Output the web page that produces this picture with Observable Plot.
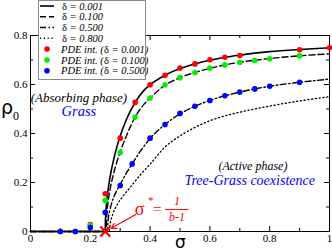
<!DOCTYPE html>
<html><head><meta charset="utf-8">
<script src="https://cdn.jsdelivr.net/npm/d3@7"></script>
<script src="https://cdn.jsdelivr.net/npm/@observablehq/plot@0.6"></script>
<style>
body{margin:0;background:#fff}
#chart{position:relative;width:332px;height:252px}
</style></head><body><div id="chart"></div>
<script>
// ---- tick values and labels ----
const xTicks = [0, 0.2, 0.4, 0.6, 0.8, 1];
const xTickLabels = ["0", "0.2", "0.4", "0.6", "0.8", "1"];
const xMinor = [0.1, 0.3, 0.5, 0.7, 0.9];
const yTicks = [0, 0.2, 0.4, 0.6, 0.8];
const yTickLabels = ["0", "0.2", "0.4", "0.6", "0.8"];
const yMinor = [0.1, 0.3, 0.5, 0.7];

// ---- mean-field curves ----
const sigD001 = [0, 0.25, 0.2505, 0.252, 0.255, 0.26, 0.265, 0.27, 0.28, 0.29, 0.30, 0.32, 0.35, 0.38, 0.40, 0.45, 0.50, 0.55, 0.60, 0.65, 0.70, 0.80, 0.90, 1.0];
const rhoD001 = [0, 0, 0.04, 0.078, 0.124, 0.175, 0.214, 0.248, 0.303, 0.35, 0.39, 0.455, 0.527, 0.577, 0.599, 0.638, 0.665, 0.684, 0.699, 0.711, 0.72, 0.734, 0.743, 0.75];
const sigD010 = [0, 0.253, 0.255, 0.258, 0.262, 0.268, 0.275, 0.283, 0.29, 0.30, 0.32, 0.35, 0.38, 0.40, 0.45, 0.50, 0.55, 0.60, 0.65, 0.70, 0.75, 0.80, 0.90, 1.0];
const rhoD010 = [0, 0, 0.067, 0.106, 0.142, 0.184, 0.222, 0.26, 0.289, 0.325, 0.388, 0.467, 0.52, 0.545, 0.597, 0.628, 0.649, 0.666, 0.68, 0.691, 0.699, 0.706, 0.717, 0.725];
const sigD050 = [0, 0.257, 0.26, 0.265, 0.27, 0.28, 0.29, 0.30, 0.32, 0.34, 0.37, 0.40, 0.45, 0.50, 0.55, 0.60, 0.65, 0.70, 0.75, 0.80, 0.90, 1.0];
const rhoD050 = [0, 0, 0.05, 0.085, 0.11, 0.145, 0.17, 0.192, 0.237, 0.276, 0.332, 0.38, 0.437, 0.48, 0.511, 0.535, 0.554, 0.569, 0.582, 0.593, 0.609, 0.622];
const sigD080 = [0, 0.263, 0.267, 0.275, 0.29, 0.31, 0.34, 0.37, 0.40, 0.45, 0.50, 0.55, 0.60, 0.65, 0.70, 0.80, 0.90, 1.0];
const rhoD080 = [0, 0, 0.035, 0.07, 0.11, 0.145, 0.19, 0.235, 0.275, 0.345, 0.39, 0.425, 0.452, 0.472, 0.487, 0.512, 0.533, 0.55];

// ---- PDE integration points ----
const sigPdeRed = [0.1, 0.15, 0.2, 0.25, 0.3, 0.35, 0.4, 0.45, 0.5, 0.55, 0.6, 0.65, 0.7, 0.9, 1.0];
const rhoPdeRed = [0, 0, 0.028, 0.154, 0.381, 0.527, 0.599, 0.638, 0.667, 0.684, 0.701, 0.711, 0.718, 0.742, 0.75];
const sigPdeGreen = [0.1, 0.15, 0.2, 0.25, 0.3, 0.35, 0.4, 0.45, 0.5, 0.55, 0.6, 0.65, 0.7, 0.75, 0.8, 0.9];
const rhoPdeGreen = [0, 0, 0.025, 0.127, 0.322, 0.467, 0.545, 0.599, 0.628, 0.649, 0.667, 0.68, 0.691, 0.698, 0.705, 0.717];
const sigPdeBlue = [0.1, 0.15, 0.2, 0.25, 0.3, 0.34, 0.4, 0.45, 0.5, 0.55, 0.6, 0.65, 0.7, 0.75, 0.8, 0.9];
const rhoPdeBlue = [0, 0, 0.016, 0.078, 0.188, 0.276, 0.381, 0.437, 0.482, 0.511, 0.535, 0.554, 0.569, 0.582, 0.593, 0.609];

// ---- annotations ----
const sigmaStar = 0.25;
const phaseLabels = [
  {x: 0.162, y: 0.547, t: "(Absorbing phase)", c: "black", s: 13},
  {x: 0.162, y: 0.49, t: "Grass", c: "#0000ff", s: 14.5},
  {x: 0.744, y: 0.265, t: "(Active phase)", c: "black", s: 12},
  {x: 0.733, y: 0.207, t: "Tree-Grass coexistence", c: "#0000ff", s: 14}
];
const arrowData = [{x1: 0.352, y1: 0.069, x2: 0.27, y2: 0.013}];

const legendLines = [
  {label: "0.001", dash: null},
  {label: "0.100", dash: "6,3"},
  {label: "0.500", dash: "6,2.5,1.5,2.5"},
  {label: "0.800", dash: "1.2,2.6"}
];
const legendDots = [
  {label: "0.001", color: "#ff0000"},
  {label: "0.100", color: "#00ee00"},
  {label: "0.500", color: "#0000ff"}
];

const pts = (s, r) => s.map((v, i) => ({x: v, y: r[i]}));
const W = 332, H = 252, mT = 35, mB = 21, mL = 30, mR = 3;
const innerH = H - mT - mB, innerW = W - mL - mR;
const serif = "Liberation Serif";

const plot = Plot.plot({
  width: W, height: H,
  marginTop: mT, marginBottom: mB, marginLeft: mL, marginRight: mR,
  style: {fontFamily: serif, fontSize: "11px", background: "white"},
  x: {domain: [0, 1], label: null},
  y: {domain: [0, 0.8], label: null},
  marks: [
    Plot.axisX(xTicks, {tickSize: 0, tickPadding: 3, tickFormat: d => xTickLabels[xTicks.indexOf(d)], fontSize: 11, label: null}),
    Plot.axisY(yTicks, {tickSize: 0, tickPadding: 3, tickFormat: d => yTickLabels[yTicks.indexOf(d)], fontSize: 11, label: null}),
    // inward ticks on all sides
    Plot.tickX(xTicks, {x: d => d, insetTop: innerH - 5, stroke: "black"}),
    Plot.tickX(xTicks, {x: d => d, insetBottom: innerH - 5, stroke: "black"}),
    Plot.tickX(xMinor, {x: d => d, insetTop: innerH - 3, stroke: "black"}),
    Plot.tickX(xMinor, {x: d => d, insetBottom: innerH - 3, stroke: "black"}),
    Plot.tickY(yTicks, {y: d => d, insetRight: innerW - 5, stroke: "black"}),
    Plot.tickY(yTicks, {y: d => d, insetLeft: innerW - 5, stroke: "black"}),
    Plot.tickY(yMinor, {y: d => d, insetRight: innerW - 3, stroke: "black"}),
    Plot.tickY(yMinor, {y: d => d, insetLeft: innerW - 3, stroke: "black"}),
    // curves
    Plot.line(pts(sigD080, rhoD080), {x: "x", y: "y", stroke: "black", strokeWidth: 1.3, strokeDasharray: "1.2,2.6", curve: "monotone-x"}),
    Plot.line(pts(sigD050, rhoD050), {x: "x", y: "y", stroke: "black", strokeWidth: 1.4, strokeDasharray: "6,2.5,1.5,2.5", curve: "monotone-x"}),
    Plot.line(pts(sigD010, rhoD010), {x: "x", y: "y", stroke: "black", strokeWidth: 1.4, strokeDasharray: "6,3", curve: "monotone-x"}),
    Plot.line(pts(sigD001, rhoD001), {x: "x", y: "y", stroke: "black", strokeWidth: 1.6, curve: "monotone-x"}),
    Plot.frame({stroke: "black", strokeWidth: 1}),
    // PDE dots
    Plot.dot(pts(sigPdeRed, rhoPdeRed), {x: "x", y: "y", r: 2.8, fill: "#ff0000"}),
    Plot.dot(pts(sigPdeGreen, rhoPdeGreen), {x: "x", y: "y", r: 2.8, fill: "#00ee00"}),
    Plot.dot(pts(sigPdeBlue, rhoPdeBlue), {x: "x", y: "y", r: 2.8, fill: "#0000ff"}),
    // phase annotations
    Plot.text(phaseLabels, {x: "x", y: "y", text: "t", fill: "c", fontSize: "s", fontStyle: "italic", fontFamily: serif}),
    // sigma* annotation
    Plot.arrow(arrowData, {x1: "x1", y1: "y1", x2: "x2", y2: "y2", stroke: "#ff0000", strokeWidth: 1.2, headLength: 7}),
    Plot.dot([{x: sigmaStar, y: 0}], {x: "x", y: "y", symbol: "times", r: 4.6, stroke: "#ff0000", strokeWidth: 2.2}),
    Plot.text([{x: 0.349, y: 0.092, t: "σ"}], {x: "x", y: "y", text: "t", textAnchor: "start", fill: "#ff0000", fontSize: 18, fontFamily: serif}),
    Plot.text([{x: 0.393, y: 0.128, t: "*"}], {x: "x", y: "y", text: "t", textAnchor: "start", fill: "#ff0000", fontSize: 11, fontFamily: serif}),
    Plot.text([{x: 0.41, y: 0.09, t: "="}], {x: "x", y: "y", text: "t", textAnchor: "start", fill: "#ff0000", fontSize: 15, fontFamily: serif}),
    Plot.text([{x: 0.49, y: 0.122, t: "1"}], {x: "x", y: "y", text: "t", fill: "#ff0000", fontSize: 12, fontStyle: "italic", fontFamily: serif}),
    Plot.ruleY([0.09], {x1: 0.452, x2: 0.53, stroke: "#ff0000", strokeWidth: 1}),
    Plot.text([{x: 0.49, y: 0.057, t: "b-1"}], {x: "x", y: "y", text: "t", fill: "#ff0000", fontSize: 12, fontStyle: "italic", fontFamily: serif})
  ]
});

const svg = d3.select(plot);
// axis labels
const yl = svg.append("text").attr("x", 1).attr("y", 114).attr("text-anchor", "start").attr("font-family", "DejaVu Sans").attr("fill", "black");
yl.append("tspan").attr("font-size", 19).text("ρ");
yl.append("tspan").attr("font-size", 12).attr("font-family", serif).attr("dy", 6).text("0");
svg.append("text").attr("x", 175).attr("y", 248).attr("text-anchor", "start").attr("font-family", "DejaVu Sans").attr("font-size", 17).attr("fill", "black").text("σ");

// legend
const lg = svg.append("g").attr("text-anchor", "start");
lg.append("rect").attr("x", 38.5).attr("y", 0.5).attr("width", 107).attr("height", 79).attr("fill", "white").attr("stroke", "#888").attr("stroke-width", 1);
const rowY = [6, 16.8, 27.5, 38.2, 49, 60, 70.8];
legendLines.forEach((e, i) => {
  const ln = lg.append("line").attr("x1", 40).attr("x2", 54).attr("y1", rowY[i]).attr("y2", rowY[i]).attr("stroke", "black").attr("stroke-width", i === 0 ? 1.6 : 1.4);
  if (e.dash) ln.attr("stroke-dasharray", e.dash);
  const t = lg.append("text").attr("x", 62).attr("y", rowY[i] + 3.5).attr("text-anchor", "start").attr("font-family", serif).attr("font-size", 10.5).attr("fill", "black");
  t.append("tspan").text("δ");
  t.append("tspan").attr("font-style", "italic").text(" = " + e.label);
});
legendDots.forEach((e, j) => {
  const i = j + 4;
  lg.append("circle").attr("cx", 47).attr("cy", rowY[i]).attr("r", 2.8).attr("fill", e.color);
  const t = lg.append("text").attr("x", 61).attr("y", rowY[i] + 3.5).attr("text-anchor", "start").attr("font-family", serif).attr("font-size", 10.5).attr("fill", "black");
  t.append("tspan").attr("font-style", "italic").text("PDE int. (");
  t.append("tspan").text("δ");
  t.append("tspan").attr("font-style", "italic").text(" = " + e.label + ")");
});

document.getElementById("chart").appendChild(plot);
</script></body></html>
